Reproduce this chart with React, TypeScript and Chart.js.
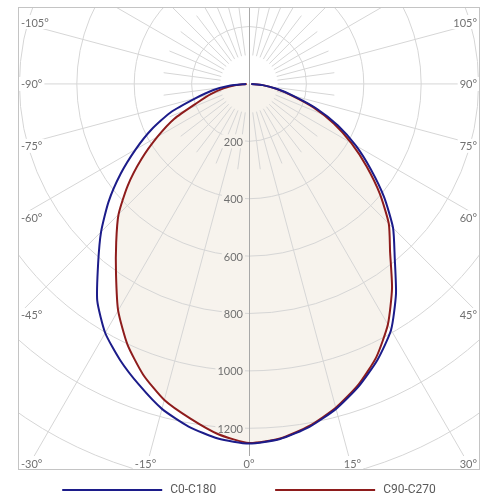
import React, { useEffect, useRef } from "react";
import { Chart, registerables } from "chart.js";

Chart.register(...registerables);

// Polar angles (gamma, degrees from the downward axis)
const GAMMA = [0, 5, 10, 15, 20, 25, 30, 35, 40, 45, 50, 55, 60, 65, 70, 75, 80, 85, 90];
// Luminous intensity (cd/klm) per half-plane
const C0 = [1254, 1242, 1213, 1172, 1120, 1060, 990, 893, 790, 710, 615, 518, 430, 342, 250, 160, 98, 48, 8];
const C180 = [1253, 1240, 1212, 1172, 1117, 1062, 1002, 922, 818, 729, 639, 546, 456, 374, 291, 192, 128, 65, 10];
const C90 = [1252, 1240, 1210, 1168, 1115, 1050, 968, 869, 765, 689, 595, 500, 412, 326, 239, 153, 94, 48, 8];
const C270 = [1251, 1225, 1183, 1140, 1078, 1002, 912, 808, 720, 643, 552, 458, 368, 287, 192, 138, 90, 45, 8];

const SERIES_NAMES = ["C0-C180", "C90-C270"];
const RING_LABELS = [200, 400, 600, 800, 1000, 1200];
const RING_ALL = [200, 400, 600, 800, 1000, 1200, 1400, 1600, 1800, 2000];
const ANGLE_LABELS = [-105, -90, -75, -60, -45, -30, -15, 0, 15, 30, 45, 60, 75, 90, 105];

const BLUE = "#1c1c8a";
const RED = "#8e1c1c";
const FILL = "#f7f3ed";
const GRID = "#d6d6d6";
const TEXT = "#707070";
const TICK_FONT = "11px Lato, 'Open Sans', sans-serif";

function polarPoints(left: number[], right: number[]) {
  const pts: { x: number; y: number }[] = [];
  for (let i = GAMMA.length - 1; i >= 0; i--) {
    const g = (-GAMMA[i] * Math.PI) / 180;
    pts.push({ x: left[i] * Math.sin(g), y: -left[i] * Math.cos(g) });
  }
  for (let i = 1; i < GAMMA.length; i++) {
    const g = (GAMMA[i] * Math.PI) / 180;
    pts.push({ x: right[i] * Math.sin(g), y: -right[i] * Math.cos(g) });
  }
  return pts;
}

const polarGrid = {
  id: "polarGrid",
  beforeDatasetsDraw(chart: any) {
    const { ctx, chartArea: a, scales } = chart;
    const xs = scales.x;
    const ys = scales.y;
    const cx = xs.getPixelForValue(0);
    const cy = ys.getPixelForValue(0);
    const k = xs.getPixelForValue(1) - cx;
    ctx.save();
    ctx.beginPath();
    ctx.rect(a.left, a.top, a.right - a.left, a.bottom - a.top);
    ctx.clip();
    ctx.strokeStyle = GRID;
    ctx.lineWidth = 1;
    for (const r of RING_ALL) {
      ctx.beginPath();
      ctx.arc(cx, cy, r * k, 0, Math.PI * 2);
      ctx.stroke();
    }
    for (let d = -172.5; d <= 180; d += 7.5) {
      if (d === 0 || d === 180) continue;
      const major = d % 15 === 0;
      const r0 = 100 * k;
      const r1 = (major ? 3000 : 300) * k;
      const g = (d * Math.PI) / 180;
      ctx.beginPath();
      ctx.moveTo(cx + r0 * Math.sin(g), cy + r0 * Math.cos(g));
      ctx.lineTo(cx + r1 * Math.sin(g), cy + r1 * Math.cos(g));
      ctx.stroke();
    }
    ctx.strokeStyle = "#a8a8a8";
    ctx.beginPath();
    ctx.moveTo(Math.round(cx) + 0.5, a.top);
    ctx.lineTo(Math.round(cx) + 0.5, a.bottom);
    ctx.stroke();
    ctx.restore();

    // ring labels
    ctx.save();
    ctx.font = TICK_FONT;
    ctx.textAlign = "right";
    ctx.textBaseline = "middle";
    for (const r of RING_LABELS) {
      const yy = cy + r * k;
      const t = String(r);
      const w = ctx.measureText(t).width;
      ctx.fillStyle = FILL;
      ctx.fillRect(cx - 6 - w - 2, yy - 7, w + 4, 14);
      ctx.fillStyle = TEXT;
      ctx.fillText(t, cx - 6, yy + 1);
    }
    // angle labels
    for (const d of ANGLE_LABELS) {
      const g = (d * Math.PI) / 180;
      const dx = Math.sin(g);
      const dy = Math.cos(g);
      let t = Infinity;
      let side = "";
      if (dx < -1e-9) { const tt = (a.left - cx) / dx; if (tt < t) { t = tt; side = "left"; } }
      if (dx > 1e-9) { const tt = (a.right - cx) / dx; if (tt < t) { t = tt; side = "right"; } }
      if (dy > 1e-9) { const tt = (a.bottom - cy) / dy; if (tt < t) { t = tt; side = "bottom"; } }
      if (dy < -1e-9) { const tt = (a.top - cy) / dy; if (tt < t) { t = tt; side = "top"; } }
      const hx = cx + t * dx;
      const hy = cy + t * dy;
      const label = `${d}°`;
      const w = ctx.measureText(label).width;
      let lx = hx;
      let ly = hy;
      if (side === "left") { lx = a.left + 3 + w / 2; }
      else if (side === "right") { lx = a.right - 3 - w / 2; }
      else if (side === "bottom") {
        ly = a.bottom - 7;
        lx = Math.min(Math.max(hx, a.left + 3 + w / 2), a.right - 3 - w / 2);
      }
      ctx.fillStyle = "#ffffff";
      ctx.fillRect(lx - w / 2 - 2, ly - 7, w + 4, 14);
      ctx.fillStyle = TEXT;
      ctx.textAlign = "center";
      ctx.fillText(label, lx, ly + 1);
    }
    ctx.restore();
  },
  afterDraw(chart: any) {
    const { ctx, chartArea: a } = chart;
    ctx.save();
    ctx.strokeStyle = "#c4c4c4";
    ctx.lineWidth = 1;
    ctx.strokeRect(a.left + 0.5, a.top + 0.5, a.right - a.left - 1, a.bottom - a.top - 1);

    // legend
    ctx.font = "12px Roboto, sans-serif";
    ctx.textBaseline = "middle";
    ctx.textAlign = "left";
    const lineW = 100;
    const gap = 8;
    const itemGap = 59;
    const items = chart.data.datasets.map((ds: any) => ({
      text: ds.label,
      color: ds.borderColor,
      w: lineW + gap + ctx.measureText(ds.label).width,
    }));
    const total = items.reduce((s: number, it: any) => s + it.w, 0) + itemGap * (items.length - 1);
    let x = (a.left + a.right) / 2 - total / 2;
    const y = a.bottom + 20;
    for (const it of items) {
      ctx.strokeStyle = it.color;
      ctx.lineWidth = 2;
      ctx.beginPath();
      ctx.moveTo(x, y);
      ctx.lineTo(x + lineW, y);
      ctx.stroke();
      ctx.fillStyle = "#5a5a5a";
      ctx.fillText(it.text, x + lineW + gap, y);
      x += it.w + itemGap;
    }
    ctx.restore();
  },
};

export default function App() {
  const ref = useRef<HTMLCanvasElement | null>(null);
  useEffect(() => {
    if (!ref.current) return;
    const chart = new Chart(ref.current, {
      type: "scatter",
      data: {
        datasets: [
          {
            label: SERIES_NAMES[0],
            data: polarPoints(C180, C0),
            showLine: true,
            borderColor: BLUE,
            borderWidth: 2,
            pointRadius: 0,
            tension: 0.2,
            fill: false,
          },
          {
            label: SERIES_NAMES[1],
            data: polarPoints(C270, C90),
            showLine: true,
            borderColor: RED,
            backgroundColor: FILL,
            borderWidth: 2,
            pointRadius: 0,
            tension: 0.2,
            fill: "shape",
          },
        ],
      },
      options: {
        animation: false,
        responsive: false,
        layout: { padding: { left: 18, right: 20, top: 7, bottom: 30 } },
        scales: {
          x: { type: "linear", min: -805, max: 805, display: false },
          y: { type: "linear", min: -1345, max: 268, display: false },
        },
        plugins: {
          legend: { display: false },
          tooltip: { enabled: false },
          filler: { drawTime: "beforeDraw" },
        },
      } as any,
      plugins: [polarGrid],
    });
    return () => chart.destroy();
  }, []);
  return (
    <div style={{ position: "absolute", left: 0, top: 0, width: 500, height: 500, background: "#fff" }}>
      <canvas ref={ref} width={500} height={500} />
    </div>
  );
}
